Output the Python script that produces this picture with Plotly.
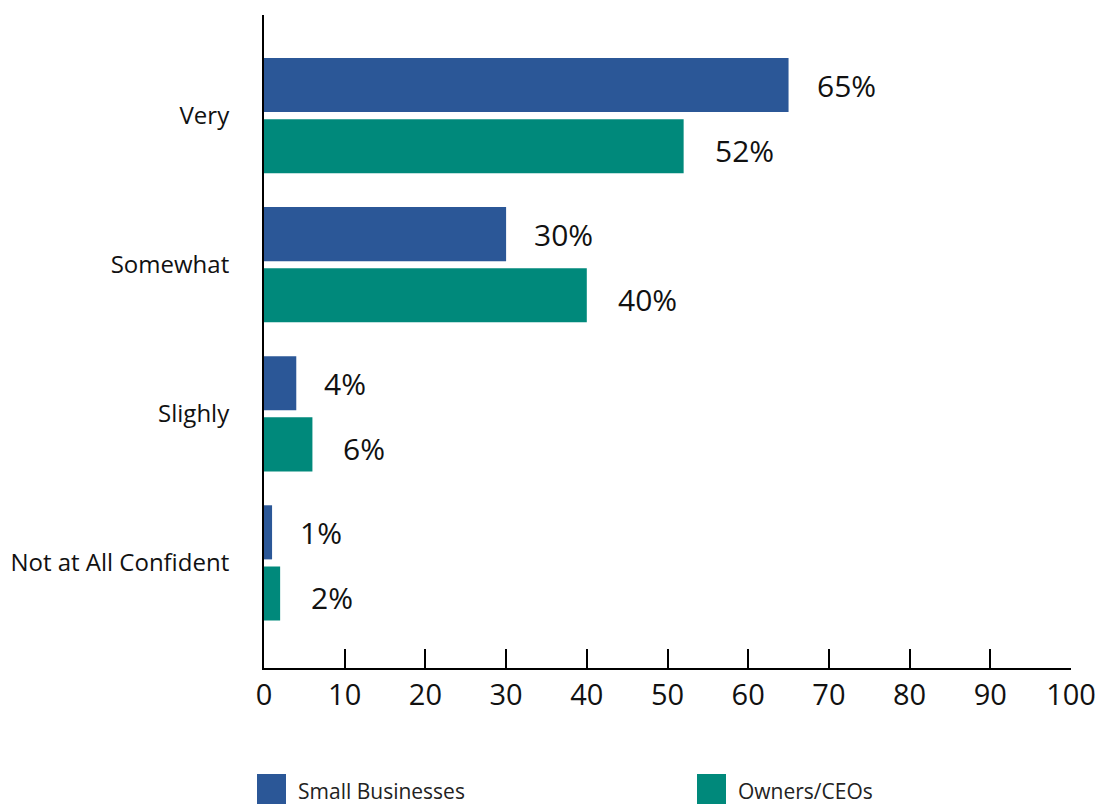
import plotly.graph_objects as go

categories = ["Not at All Confident", "Slighly", "Somewhat", "Very"]
small_businesses = [1, 4, 30, 65]
owners_ceos = [2, 6, 40, 52]
series_names = ["Small Businesses", "Owners/CEOs"]
x_ticks = [0, 10, 20, 30, 40, 50, 60, 70, 80, 90, 100]

BLUE = "#2B5797"
TEAL = "#00897B"
FONT = "Open Sans"

fig = go.Figure()
# teal first so that blue sits on top within each group (horizontal bars)
fig.add_trace(go.Bar(y=categories, x=owners_ceos, orientation="h", name=series_names[1],
                     marker=dict(color=TEAL, line=dict(width=0)), showlegend=False))
fig.add_trace(go.Bar(y=categories, x=small_businesses, orientation="h", name=series_names[0],
                     marker=dict(color=BLUE, line=dict(width=0)), showlegend=False))

annotations = []
for i, c in enumerate(categories):
    annotations.append(dict(x=small_businesses[i], y=i + 0.205, xref="x", yref="y",
                            text=f"{small_businesses[i]}%", showarrow=False,
                            xanchor="left", yanchor="middle", xshift=26,
                            font=dict(family=FONT, size=30, color="#111")))
    annotations.append(dict(x=owners_ceos[i], y=i - 0.205, xref="x", yref="y",
                            text=f"{owners_ceos[i]}%", showarrow=False,
                            xanchor="left", yanchor="middle", xshift=29, yshift=-4,
                            font=dict(family=FONT, size=30, color="#111")))

# manual legend
W_PLOT = 1099 - 264 - 28
H_PLOT = 804 - 15 - 136
def px_x(p):
    return (p - 264) / W_PLOT
def px_y(p):
    return (668 - p) / H_PLOT

shapes = []
legend_items = [(series_names[0], BLUE, 257), (series_names[1], TEAL, 697)]
for name, col, xpx in legend_items:
    shapes.append(dict(type="rect", xref="paper", yref="paper",
                       x0=px_x(xpx), x1=px_x(xpx + 29), y0=px_y(774), y1=px_y(815),
                       fillcolor=col, line=dict(width=0)))
    annotations.append(dict(x=px_x(xpx + 40), y=px_y(804), xref="paper", yref="paper",
                            text=name, showarrow=False, xanchor="left", yanchor="bottom",
                            borderpad=0, yshift=-2,
                            font=dict(family=FONT, size=21, color="#222")))

fig.update_layout(
    width=1099, height=804,
    margin=dict(l=264, r=28, t=15, b=136, autoexpand=False),
    paper_bgcolor="white", plot_bgcolor="white",
    barmode="group", bargap=0.18, bargroupgap=0.115,
    font=dict(family=FONT, color="#111"),
    xaxis=dict(range=[0, 100], tickvals=x_ticks, showgrid=False, zeroline=False,
               showline=True, linecolor="black", linewidth=2, automargin=False,
               ticks="inside", ticklen=19, tickwidth=2, tickcolor="black",
               tickfont=dict(family=FONT, size=29, color="#111")),
    yaxis=dict(type="category", categoryorder="array", categoryarray=categories,
               range=[-0.705, 3.675], showgrid=False, zeroline=False, automargin=False,
               showline=True, linecolor="black", linewidth=2, ticks="",
               ticklabelstandoff=28,
               tickfont=dict(family=FONT, size=24, color="#111")),
    annotations=annotations, shapes=shapes,
)

fig.write_html("out.html")
